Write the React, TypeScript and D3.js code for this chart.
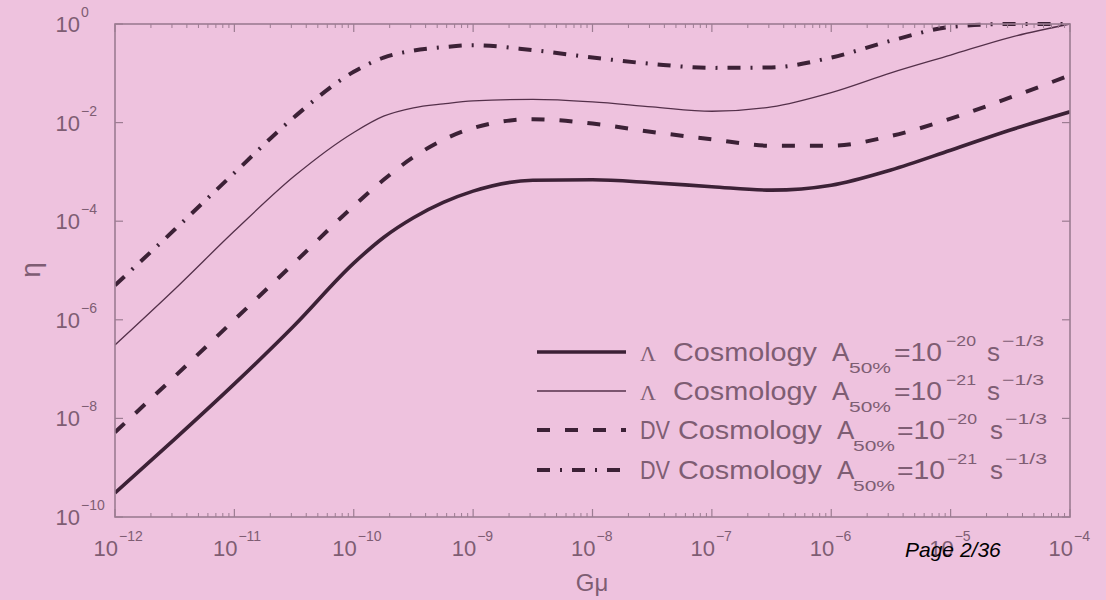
import React from 'react';
import * as d3 from 'd3';

// ---- data (log10 values) ----
const gmuExp = [-12, -11.5, -11, -10.5, -10, -9.75, -9.5, -9.25, -9, -8.5, -8, -7.5, -7, -6.5, -6, -5.5, -5, -4.5, -4];
const lambda20 = [-9.51, -8.42, -7.3, -6.12, -4.85, -4.33, -3.93, -3.62, -3.39, -3.17, -3.16, -3.22, -3.3, -3.37, -3.27, -2.96, -2.56, -2.15, -1.78];
const lambda21 = [-6.51, -5.38, -4.2, -3.09, -2.2, -1.87, -1.7, -1.62, -1.56, -1.53, -1.58, -1.68, -1.77, -1.68, -1.39, -0.99, -0.63, -0.27, 0];
const dv20 = [-8.28, -7.15, -6.0, -4.85, -3.69, -3.16, -2.7, -2.35, -2.11, -1.93, -2.02, -2.19, -2.34, -2.47, -2.47, -2.27, -1.92, -1.49, -1.04];
const dv21 = [-5.3, -4.17, -3.02, -1.89, -0.97, -0.68, -0.54, -0.47, -0.43, -0.53, -0.68, -0.81, -0.89, -0.88, -0.68, -0.34, -0.06, 0, 0];

const xTickExp = [-12, -11, -10, -9, -8, -7, -6, -5, -4];
const yTickExp = [0, -2, -4, -6, -8, -10];

const seriesPrefix = ['Λ', 'Λ', 'DV', 'DV'];
const seriesAExp = ['−20', '−21', '−20', '−21'];

const BG = 'rgb(238,194,222)';
const AXIS = '#9c7c92';
const TXT = '#7e5d73';
const LINE = '#3c2136';

export default function App() {
  const L = 115, R = 1070, T = 24, B = 517;
  const x = d3.scaleLog().domain([1e-12, 1e-4]).range([L, R]);
  const y = d3.scaleLog().domain([1e-10, 1]).range([B, T]);

  const series = [
    { vals: lambda20, w: 3.6, dash: undefined as string | undefined, color: LINE },
    { vals: lambda21, w: 1.3, dash: undefined, color: '#54304a' },
    { vals: dv20, w: 4, dash: '13 15', color: LINE },
    { vals: dv21, w: 4, dash: '13 10 2 10', color: LINE },
  ];

  const line = d3
    .line<[number, number]>()
    .x((d) => x(Math.pow(10, d[0])))
    .y((d) => y(Math.pow(10, d[1])))
    .curve(d3.curveMonotoneX);

  const minor: number[] = [];
  for (let d = -12; d < -4; d++) for (let k = 2; k <= 9; k++) minor.push(k * Math.pow(10, d));

  const legendY = [352, 391, 430, 470];
  const isDV = (i: number) => i >= 2;

  return (
    <div style={{ position: 'absolute', left: 0, top: 0 }}>
      <svg width={1106} height={600} style={{ display: 'block', background: BG }} fontFamily="'Liberation Sans', Arial, sans-serif">
        <rect x={0} y={0} width={1106} height={600} fill={BG} />
        <defs>
          <clipPath id="plotclip">
            <rect x={L} y={T - 2} width={R - L} height={B - T + 2} />
          </clipPath>
        </defs>

        {/* curves */}
        <g clipPath="url(#plotclip)">
          {series.map((s, i) => (
            <path
              key={i}
              d={line(gmuExp.map((g, j) => [g, s.vals[j]] as [number, number])) || ''}
              fill="none"
              stroke={s.color}
              strokeWidth={s.w}
              strokeDasharray={s.dash}
              strokeLinecap="butt"
            />
          ))}
        </g>

        {/* box */}
        <rect x={L} y={T} width={R - L} height={B - T} fill="none" stroke={AXIS} strokeWidth={1.6} />

        {/* x ticks */}
        {xTickExp.map((e) => {
          const px = x(Math.pow(10, e));
          return (
            <g key={'xt' + e}>
              <line x1={px} x2={px} y1={B} y2={B - 8} stroke={AXIS} strokeWidth={1.2} />
              <line x1={px} x2={px} y1={T} y2={T + 8} stroke={AXIS} strokeWidth={1.2} />
              <text x={px + 3} y={556} fontSize={22} fill={TXT} textAnchor="end">10</text>
              <text x={px + 4} y={541} fontSize={14} fill={TXT}>{'−' + String(-e)}</text>
            </g>
          );
        })}
        {minor.map((v, i) => {
          const px = x(v);
          return (
            <g key={'mx' + i}>
              <line x1={px} x2={px} y1={B} y2={B - 4} stroke={AXIS} strokeWidth={1} />
              <line x1={px} x2={px} y1={T} y2={T + 4} stroke={AXIS} strokeWidth={1} />
            </g>
          );
        })}

        {/* y ticks */}
        {yTickExp.map((e) => {
          const py = y(Math.pow(10, e));
          return (
            <g key={'yt' + e}>
              <line x1={L} x2={L + 8} y1={py} y2={py} stroke={AXIS} strokeWidth={1.2} />
              <line x1={R} x2={R - 8} y1={py} y2={py} stroke={AXIS} strokeWidth={1.2} />
              <text x={80} y={py + 8} fontSize={22} fill={TXT} textAnchor="end">10</text>
              <text x={81} y={py - 7} fontSize={14} fill={TXT}>{e === 0 ? '0' : '−' + String(-e)}</text>
            </g>
          );
        })}

        {/* axis labels */}
        <text x={592} y={591} fontSize={24} fill={TXT} textAnchor="middle">Gμ</text>
        <text transform="translate(40,270) rotate(-90)" fontSize={28} fill={TXT} textAnchor="middle">η</text>

        {/* legend */}
        {series.map((s, i) => {
          const ly = legendY[i];
          const bl = ly + 9;
          const dv = isDV(i);
          return (
            <g key={'lg' + i}>
              <line x1={537} x2={626} y1={ly} y2={ly} stroke={s.color} strokeWidth={s.w} strokeDasharray={s.dash} />
              {dv ? (
                <text x={640} y={bl} fontSize={26} fill={TXT} textLength={30} lengthAdjust="spacingAndGlyphs">{seriesPrefix[i]}</text>
              ) : (
                <text x={640} y={bl} fontSize={22} fill={TXT} fontFamily="'Liberation Serif', 'DejaVu Serif', serif">{seriesPrefix[i]}</text>
              )}
              <text x={dv ? 678 : 673} y={bl} fontSize={26} fill={TXT} textLength={144} lengthAdjust="spacingAndGlyphs">Cosmology</text>
              <text x={dv ? 837 : 832} y={bl} fontSize={26} fill={TXT}>A</text>
              <text x={dv ? 853 : 849} y={bl + 12} fontSize={15} fill={TXT} textLength={42} lengthAdjust="spacingAndGlyphs">50%</text>
              <text x={dv ? 897 : 894} y={bl} fontSize={26} fill={TXT} textLength={48} lengthAdjust="spacingAndGlyphs">=10</text>
              <text x={dv ? 947 : 946} y={bl - 15} fontSize={15} fill={TXT} textLength={30} lengthAdjust="spacingAndGlyphs">{seriesAExp[i]}</text>
              <text x={dv ? 990 : 987} y={bl} fontSize={26} fill={TXT}>s</text>
              <text x={dv ? 1005 : 1002} y={bl - 15} fontSize={15} fill={TXT} textLength={42} lengthAdjust="spacingAndGlyphs">−1/3</text>
            </g>
          );
        })}

        {/* page label */}
        <text x={905} y={557} fontSize={21} fontStyle="italic" fill="#000">Page 2/36</text>
      </svg>
    </div>
  );
}
